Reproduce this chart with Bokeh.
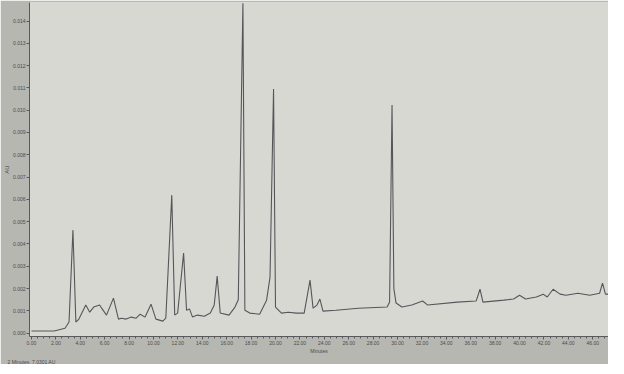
from bokeh.plotting import figure
from bokeh.models import FixedTicker, NumeralTickFormatter, Range1d, Title
from bokeh.embed import file_html
from bokeh.resources import INLINE

# Chromatogram trace: retention time (minutes) and absorbance (AU)
minutes = [0.00, 1.86, 2.75, 3.08, 3.40, 3.64, 3.89, 4.45, 4.78, 5.10, 5.59, 5.75, 6.15,
           6.72, 7.13, 7.37, 7.77, 8.18, 8.58, 8.91, 9.31, 9.80, 10.20, 10.77, 11.01,
           11.50, 11.74, 11.98, 12.47, 12.71, 12.96, 13.20, 13.60, 14.17, 14.66, 14.98,
           15.22, 15.47, 16.19, 16.68, 16.95, 17.33, 17.49, 17.89, 18.70, 19.27, 19.55,
           19.84, 20.00, 20.49, 21.05, 21.70, 22.35, 22.83, 23.08, 23.40, 23.64, 23.89,
           24.94, 26.80, 29.15, 29.35, 29.55, 29.70, 29.88, 30.36, 31.17, 32.06, 32.47,
           34.90, 36.44, 36.76, 37.00, 38.70, 39.51, 40.00, 40.49, 41.38, 41.94, 42.27,
           42.75, 43.32, 43.81, 44.78, 45.75, 46.56, 46.80, 47.04, 47.85]
au = [0.00010, 0.00010, 0.00022, 0.00050, 0.00462, 0.00050, 0.00063, 0.00126, 0.00094,
      0.00117, 0.00126, 0.00112, 0.00081, 0.00157, 0.00063, 0.00067, 0.00063, 0.00072,
      0.00067, 0.00085, 0.00072, 0.00130, 0.00063, 0.00054, 0.00067, 0.00619, 0.00081,
      0.00090, 0.00359, 0.00103, 0.00108, 0.00072, 0.00081, 0.00076, 0.00090, 0.00126,
      0.00256, 0.00090, 0.00081, 0.00117, 0.00150, 0.01480, 0.00103, 0.00090, 0.00085,
      0.00148, 0.00250, 0.01095, 0.00117, 0.00090, 0.00094, 0.00090, 0.00090, 0.00238,
      0.00112, 0.00126, 0.00153, 0.00099, 0.00103, 0.00112, 0.00117, 0.00140, 0.01023,
      0.00200, 0.00135, 0.00117, 0.00126, 0.00144, 0.00126, 0.00139, 0.00144, 0.00197,
      0.00139, 0.00148, 0.00153, 0.00170, 0.00153, 0.00162, 0.00175, 0.00162, 0.00197,
      0.00175, 0.00170, 0.00179, 0.00170, 0.00179, 0.00224, 0.00175, 0.00175]

x_ticks = [0, 2, 4, 6, 8, 10, 12, 14, 16, 18, 20, 22, 24, 26, 28, 30, 32, 34, 36, 38,
           40, 42, 44, 46, 48]
y_ticks = [0.000, 0.001, 0.002, 0.003, 0.004, 0.005, 0.006, 0.007, 0.008, 0.009,
           0.010, 0.011, 0.012, 0.013, 0.014]
x_title = "Minutes"
y_title = "AU"
status_text = "2 Minutes, 7.0301 AU"

font = "Liberation Sans"
text_col = "#4a4a4e"

p = figure(width=608, height=364, output_backend="svg", toolbar_location=None,
           x_range=Range1d(-0.16, 47.29), y_range=Range1d(-0.00015, 0.01483),
           min_border_left=10, min_border_right=0, min_border_top=2,
           min_border_bottom=4)

p.background_fill_color = "#d8d8d3"
p.border_fill_color = "#b7b7b1"
p.outline_line_color = None
p.xgrid.visible = False
p.ygrid.visible = False

p.line(minutes, au, line_color="#55565a", line_width=1.1)

for ax in (p.xaxis[0], p.yaxis[0]):
    ax.axis_line_color = "#5a5a5e"
    ax.major_tick_line_color = "#5a5a5e"
    ax.minor_tick_line_color = "#5a5a5e"
    ax.major_tick_out = 3
    ax.major_tick_in = 0
    ax.minor_tick_out = 2
    ax.minor_tick_in = 0
    ax.major_label_text_font = font
    ax.major_label_text_font_size = "5px"
    ax.major_label_text_color = text_col
    ax.major_label_standoff = 1
    ax.axis_label_text_font = font
    ax.axis_label_text_font_size = "5px"
    ax.axis_label_text_font_style = "normal"
    ax.axis_label_text_color = text_col
    ax.axis_label_standoff = 0

p.xaxis[0].ticker = FixedTicker(ticks=x_ticks,
                                minor_ticks=[t / 2 for t in range(0, 97)])
p.xaxis[0].formatter = NumeralTickFormatter(format="0.00")
p.xaxis[0].axis_label = x_title
p.yaxis[0].ticker = FixedTicker(ticks=y_ticks)
p.yaxis[0].formatter = NumeralTickFormatter(format="0.000")
p.yaxis[0].axis_label = y_title
p.yaxis[0].axis_label_text_font_size = "6px"

p.add_layout(Title(text=status_text, align="left", text_font=font,
                   text_font_size="5px", text_font_style="normal",
                   text_color=text_col, standoff=0, offset=-22), "below")

open("out.html", "w").write(file_html(p, INLINE))
